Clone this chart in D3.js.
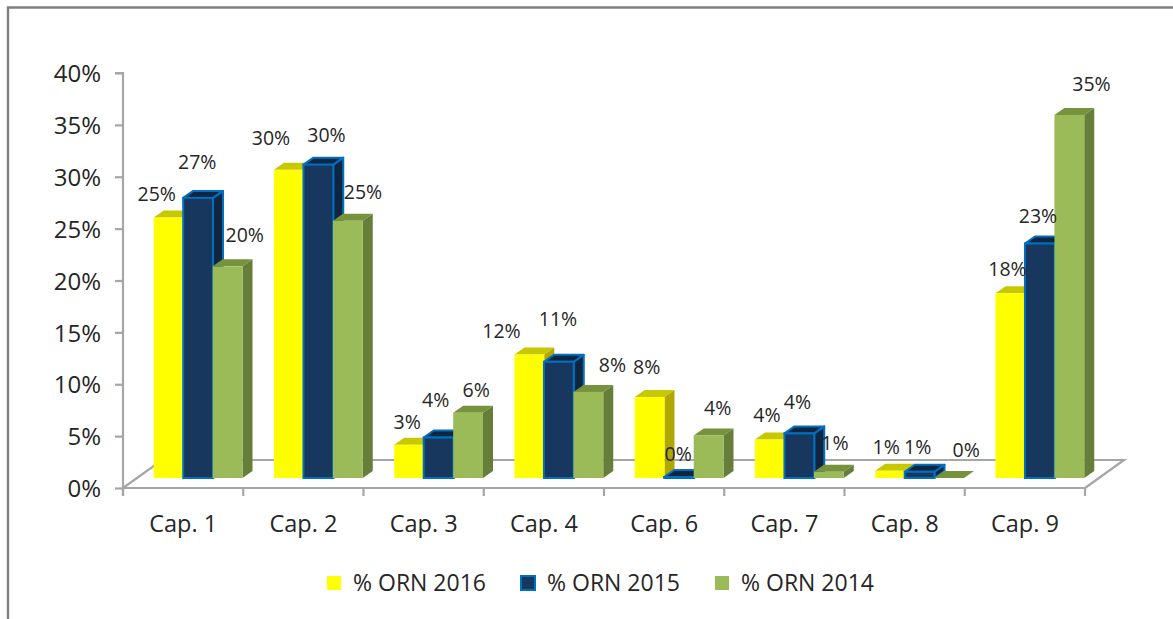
<!DOCTYPE html>
<html><head><meta charset="utf-8">
<script src="https://cdnjs.cloudflare.com/ajax/libs/d3/7.8.5/d3.min.js"></script>
<style>html,body{margin:0;padding:0;background:#fff}svg{display:block}text{font-family:"Open Sans",sans-serif;fill:#262626}</style>
</head><body><svg id="c" width="1173" height="619"></svg>
<script>
const categories = ["Cap. 1","Cap. 2","Cap. 3","Cap. 4","Cap. 6","Cap. 7","Cap. 8","Cap. 9"];
const seriesNames = ["% ORN 2016","% ORN 2015","% ORN 2014"];
const orn2016 = [0.251,0.297,0.032,0.119,0.078,0.037,0.007,0.178];
const orn2015 = [0.270,0.302,0.039,0.112,0.001,0.043,0.006,0.226];
const orn2014 = [0.204,0.248,0.063,0.083,0.041,0.006,0.000,0.350];
const yTicks = [0,0.05,0.10,0.15,0.20,0.25,0.30,0.35,0.40];
const series = [orn2016,orn2015,orn2014];
// hand placement of the data labels (centre, relative to the bar's top centre)
const labelShift2016 = [[-12,-21.5],[-18,-30.5],[-2,-21],[-28,-22],[-3,-28],[-3,-23],[-4,-22],[-3,-22.5]];
const labelShift2015 = [[-1,-34],[8,-28],[-3,-36],[-1,-41],[-1,-21],[-2,-30],[-2,-23],[-2,-26]];
const labelShift2014 = [[17,-30],[15,-26.5],[8,-21],[24,-25],[9,-26],[6,-27],[17,-26],[22,-29]];
const labelShifts = [labelShift2016,labelShift2015,labelShift2014];
const palette = [
 {front:"#FFFF00",top:"#C8C800",side:"#B0A800",stroke:"none"},
 {front:"#17375E",top:"#10253F",side:"#10253F",stroke:"#0070C0"},
 {front:"#9BBB59",top:"#76923C",side:"#677E3A",stroke:"none"}];

const svg=d3.select("#c");
svg.append("path").attr("d","M8,619V7.5H1173").attr("fill","none").attr("stroke","#808080").attr("stroke-width",2.4);

const x=d3.scaleBand().domain(categories).range([123,1085]);
const y=d3.scaleLinear().domain([0,0.40]).range([488,73]);
const inner=d3.scaleBand().domain([0,1,2]).range([31,119.5]);
const axisColor="#a6a6a6";
const floorDx=39, floorDy=-28, barLift=10, dDx=10, dDy=-7;

// floor
svg.append("path").attr("d",`M${x.range()[0]},${y(0)}L${x.range()[0]+floorDx},${y(0)+floorDy}H${x.range()[1]+floorDx}L${x.range()[1]},${y(0)}`)
  .attr("fill","none").attr("stroke",axisColor).attr("stroke-width",2.2);

// axes
const gy=svg.append("g").attr("transform","translate(123,0)")
  .call(d3.axisLeft(y).tickValues(yTicks).tickFormat(d3.format(".0%")).tickSize(8).tickPadding(14));
const gx=svg.append("g").attr("transform",`translate(0,${y(0)})`)
  .call(d3.axisBottom(x).tickSize(0).tickPadding(36));
gx.selectAll("g.tick text").attr("dy",".32em");
gy.selectAll("g.tick text").attr("dy",".36em");
gx.append("g").selectAll("line").data(d3.range(categories.length+1)).join("line")
  .attr("x1",i=>123+x.step()*i).attr("x2",i=>123+x.step()*i).attr("y1",0).attr("y2",8).attr("stroke",axisColor).attr("stroke-width",2.2);
[gy,gx].forEach(g=>{g.selectAll("path.domain").attr("stroke",axisColor).attr("stroke-width",2.2);
  g.selectAll("g.tick line").attr("stroke",axisColor).attr("stroke-width",2.2);
  g.selectAll("text").attr("fill","#262626");});
gy.selectAll("text").attr("font-size",24);
gx.selectAll("text").attr("font-size",23.5);
gx.selectAll("path.domain").attr("d","M123,0H1085");
gy.selectAll("path.domain").attr("d",`M-8,${y(0.40)}H0V${y(0)+8}`);

// bars back to front, left to right
categories.forEach((c,ci)=>{
  series.forEach((vals,si)=>{
    const v=vals[ci],p=palette[si];
    const x0=x(c)+inner(si)-0.3, w=inner.bandwidth()+0.3, base=y(0)-barLift, top=y(v)-barLift;
    const g=svg.append("g");
    const sw=p.stroke==="none"?0:2;
    g.append("path").attr("d",`M${x0+w},${top}l${dDx},${dDy}V${base+dDy}l${-dDx},${-dDy}Z`).attr("fill",p.side).attr("stroke",p.stroke).attr("stroke-width",sw).attr("stroke-linejoin","round");
    g.append("path").attr("d",`M${x0},${top}l${dDx},${dDy}h${w}l${-dDx},${-dDy}Z`).attr("fill",p.top).attr("stroke",p.stroke).attr("stroke-width",sw).attr("stroke-linejoin","round");
    g.append("rect").attr("x",x0).attr("y",top).attr("width",w).attr("height",Math.max(0,base-top)).attr("fill",p.front).attr("stroke",p.stroke).attr("stroke-width",sw);
  });
});

// data labels
categories.forEach((c,ci)=>{
  series.forEach((vals,si)=>{
    const v=vals[ci],s=labelShifts[si][ci];
    svg.append("text").attr("x",x(c)+inner(si)+inner.bandwidth()/2+s[0]).attr("y",y(v)-barLift+s[1])
      .attr("text-anchor","middle").attr("dominant-baseline","middle").attr("font-size",19.5).text(d3.format(".0%")(v));
  });
});

// legend
const legendX=d3.scaleOrdinal().domain(seriesNames).range([327,521,715]);
seriesNames.forEach((n,i)=>{
  svg.append("rect").attr("x",legendX(n)).attr("y",576).attr("width",14).attr("height",14).attr("fill",palette[i].front)
    .attr("stroke",palette[i].stroke).attr("stroke-width",palette[i].stroke==="none"?0:2);
  svg.append("text").attr("x",legendX(n)+26).attr("y",585).attr("dominant-baseline","middle").attr("font-size",23).text(n);
});
</script></body></html>
